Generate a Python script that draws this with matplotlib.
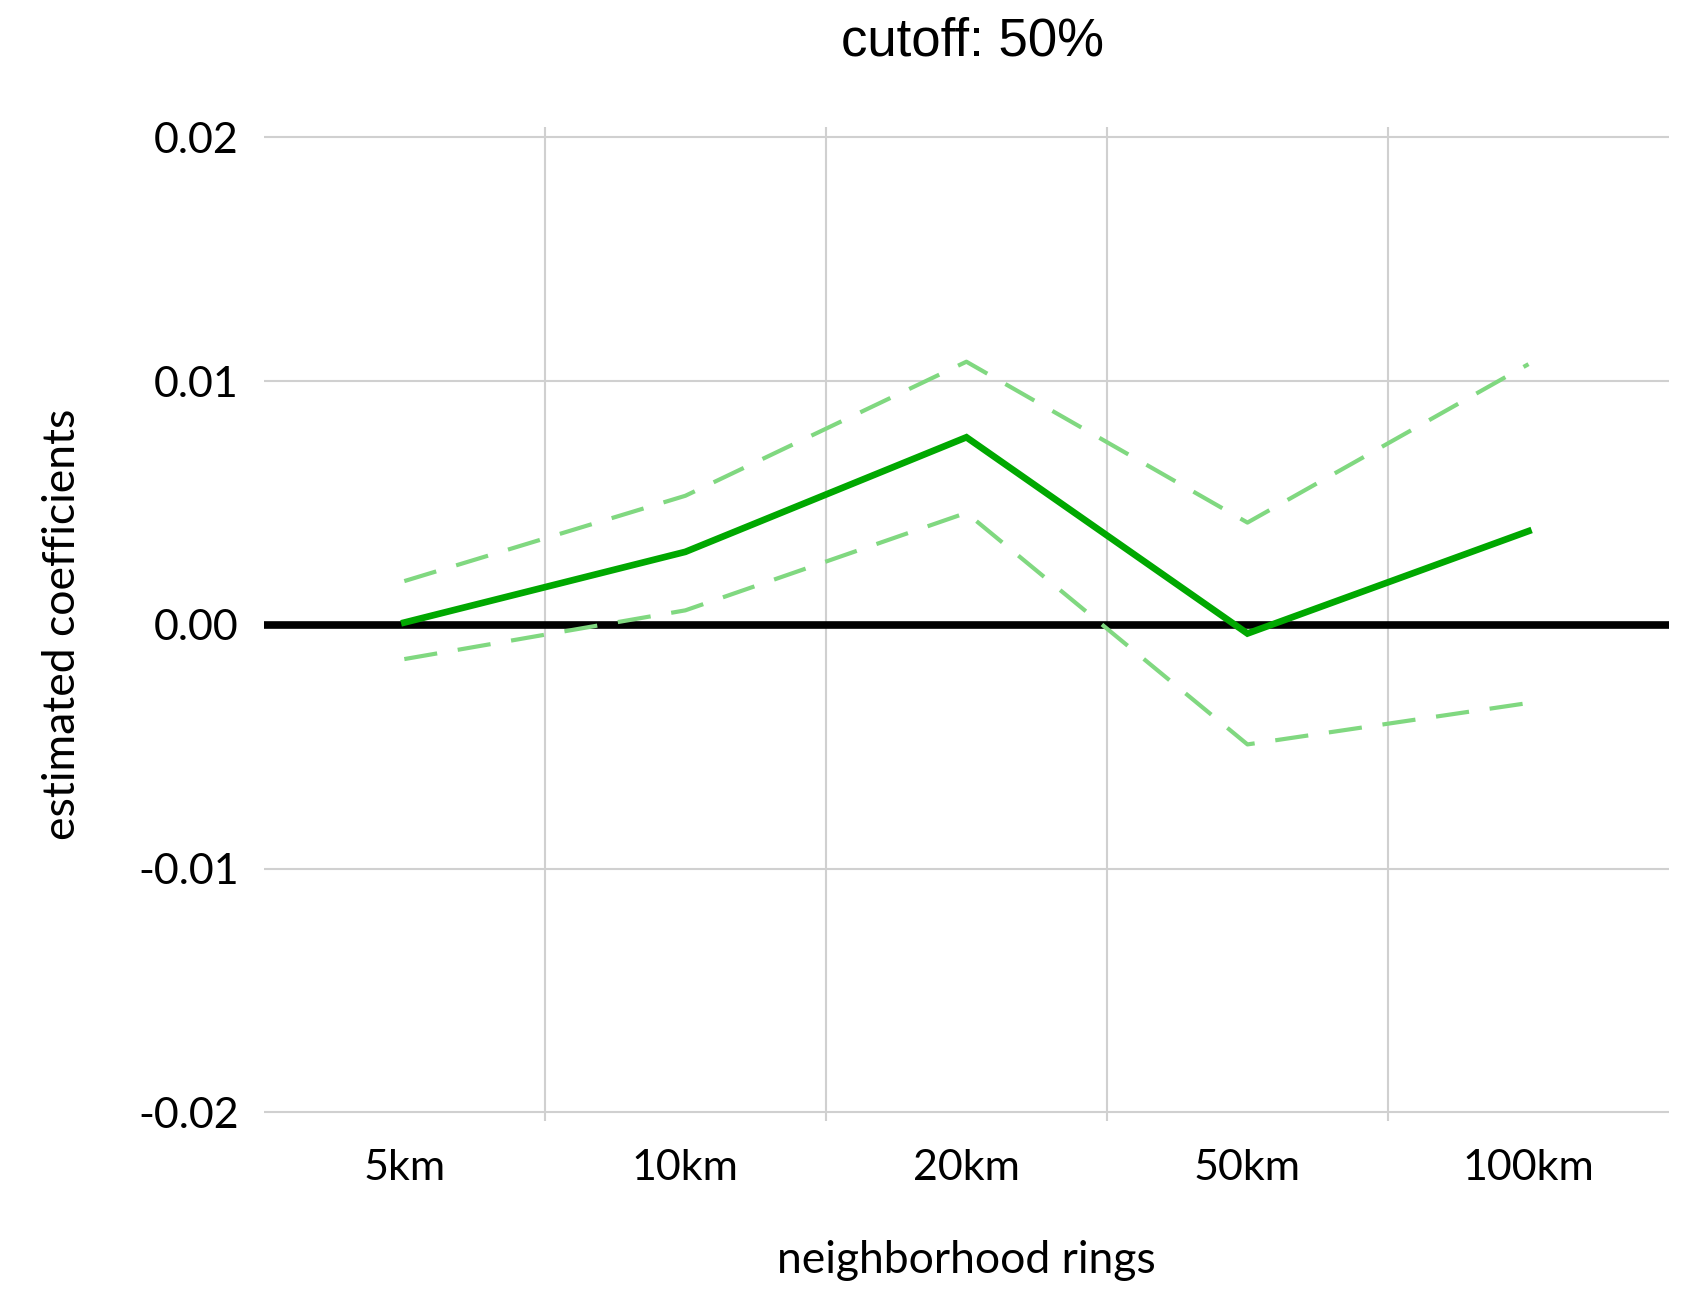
import numpy as np
import matplotlib
matplotlib.use("Agg")
import matplotlib.pyplot as plt

# categories and estimates
rings = ["5km", "10km", "20km", "50km", "100km"]
coef = [0.0001, 0.0030, 0.0077, -0.00035, 0.00385]
upper = [0.0018, 0.0053, 0.0108, 0.0042, 0.0107]
lower = [-0.0014, 0.0006, 0.0046, -0.0049, -0.0032]
yticks = [-0.02, -0.01, 0.00, 0.01, 0.02]
ytick_labels = ["-0.02", "-0.01", "0.00", "0.01", "0.02"]

fig = plt.figure(figsize=(16.91, 12.93), dpi=100)
ax = fig.add_axes([0.156, 0.133, 0.831, 0.769])

x = np.arange(len(rings))
grid_col = "#d0d0d0"

# horizontal grid at ticks, vertical grid between categories
for yv in yticks:
    ax.axhline(yv, color=grid_col, lw=1.5, zorder=1)
for xb in x[:-1] + 0.5:
    ax.axvline(xb, color=grid_col, lw=1.5, zorder=1)
ax.axhline(0, color="black", lw=5.5, zorder=2)

ax.plot(x, upper, color="#80d880", lw=3, dashes=(8, 5), zorder=3)
ax.plot(x, lower, color="#80d880", lw=3, dashes=(8, 5), zorder=3)
ax.plot(x, coef, color="#00a800", lw=4.8, zorder=4, solid_joinstyle="miter")

ax.set_xlim(-0.5, 4.5)
ax.set_ylim(-0.02035, 0.02044)
ax.set_xticks(x)
ax.set_xticklabels(rings)
ax.set_yticks(yticks)
ax.set_yticklabels(ytick_labels)
ax.tick_params(length=0, labelsize=31, pad=18)
ax.tick_params(axis="x", pad=20)
for lab in ax.get_xticklabels() + ax.get_yticklabels():
    lab.set_family(["Lato", "DejaVu Sans"])
for s in ax.spines.values():
    s.set_visible(False)

ax.set_xlabel("neighborhood rings", fontsize=32, family=["Lato", "DejaVu Sans"], labelpad=38)
ax.set_ylabel("estimated coefficients", fontsize=32, family=["Lato", "DejaVu Sans"], labelpad=40)
fig.text(0.575, 0.968, "cutoff: 50%", fontsize=38, ha="center", va="center",
         family=["Liberation Sans", "DejaVu Sans"])

fig.savefig("out.png", dpi=100)
